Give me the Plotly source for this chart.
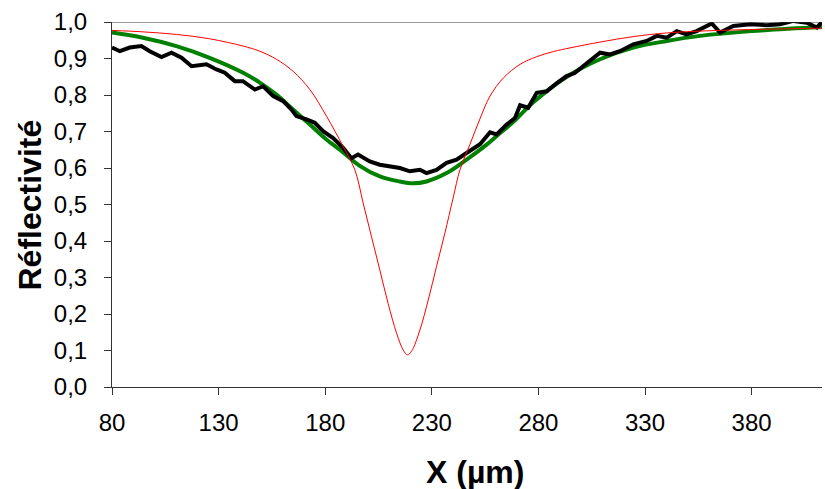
import plotly.graph_objects as go

# Measured reflectivity (black, noisy)
x_mes = [80, 83.7, 88.3, 93.8, 97.7, 103.2, 107.9, 112.6, 117.3, 124.3, 129, 132.9,
         137.6, 141.4, 147, 150.9, 155.6, 160.3, 164.2, 166.5, 171.2, 175.1, 179,
         183.7, 188.4, 192.3, 195.4, 200.9, 205.6, 210.3, 215, 219.7, 224.4, 227.5,
         232.2, 236.9, 241.6, 246.3, 252.6, 257.3, 260.4, 265.1, 269, 271.4, 275.2,
         279.2, 283.9, 288.5, 293.2, 297, 301, 305.7, 308.9, 313.6, 318.2, 324.5,
         330.8, 335.5, 340.2, 344.9, 349.5, 354.2, 361.3, 365.2, 371.4, 379.3, 387.1,
         393.3, 399.6, 405.9, 410.6, 413.5]
y_mes = [0.930, 0.920, 0.930, 0.934, 0.920, 0.904, 0.916, 0.902, 0.879, 0.884, 0.870, 0.861,
         0.838, 0.838, 0.815, 0.824, 0.797, 0.783, 0.760, 0.742, 0.733, 0.724, 0.701,
         0.682, 0.655, 0.627, 0.637, 0.618, 0.609, 0.604, 0.600, 0.591, 0.595, 0.586,
         0.595, 0.614, 0.623, 0.641, 0.665, 0.698, 0.692, 0.719, 0.737, 0.772, 0.765,
         0.806, 0.810, 0.832, 0.852, 0.860, 0.879, 0.898, 0.916, 0.911, 0.920, 0.939,
         0.948, 0.962, 0.957, 0.975, 0.966, 0.975, 0.996, 0.971, 0.989, 0.994, 0.991,
         0.994, 1.003, 0.998, 0.985, 1.003]

# Fitted curve (green)
x_fit = [80, 94.5, 110.2, 125.8, 141.5, 149.3, 157.1, 164.9, 172.8, 180.6, 188.4, 196.2,
         205.6, 215, 221.3, 227.5, 236.9, 246.3, 255.7, 260.3, 268, 277.6, 293.3, 308.9,
         324.5, 340.2, 355.8, 380, 413]
y_fit = [0.971, 0.957, 0.934, 0.902, 0.861, 0.834, 0.801, 0.760, 0.719, 0.678, 0.643, 0.606,
         0.577, 0.563, 0.558, 0.563, 0.586, 0.623, 0.664, 0.687, 0.725, 0.780, 0.850, 0.898,
         0.930, 0.948, 0.962, 0.975, 0.986]

# Theoretical curve (red)
x_th = [80, 94.5, 110.2, 125.8, 141.5, 149.3, 157.1, 164.9, 172.8, 180.6, 188.4, 193.9,
        197.8, 201.7, 205.6, 209.5, 213.5, 216.6, 218.6, 220.5, 224.4, 228.3, 232.2, 236.1,
        240, 243.2, 247.9, 252.6, 257.3, 263.6, 271.4, 279.2, 287, 294.8, 308.9, 324.5,
        340.2, 360, 385, 413]
y_th = [0.977, 0.973, 0.966, 0.954, 0.934, 0.920, 0.898, 0.865, 0.815, 0.742, 0.659, 0.595,
        0.504, 0.412, 0.321, 0.229, 0.147, 0.101, 0.088, 0.098, 0.156, 0.238, 0.330, 0.421,
        0.518, 0.595, 0.665, 0.735, 0.797, 0.847, 0.884, 0.905, 0.919, 0.929, 0.945, 0.960,
        0.970, 0.976, 0.980, 0.983]

x_ticks = [80, 130, 180, 230, 280, 330, 380]
y_ticks = [0.0, 0.1, 0.2, 0.3, 0.4, 0.5, 0.6, 0.7, 0.8, 0.9, 1.0]

fig = go.Figure()
fig.add_trace(go.Scatter(x=x_fit, y=y_fit, mode="lines",
                         line=dict(color="#008000", width=4, shape="spline"),
                         showlegend=False))
fig.add_trace(go.Scatter(x=x_mes, y=y_mes, mode="lines",
                         line=dict(color="black", width=4),
                         showlegend=False))
fig.add_trace(go.Scatter(x=x_th, y=y_th, mode="lines",
                         line=dict(color="#ff0000", width=1, shape="spline"),
                         showlegend=False))

fig.add_shape(type="line", xref="paper", yref="y", x0=0, x1=1, y0=1.0, y1=1.0,
              line=dict(color="#333333", width=1))

font_family = "Liberation Sans, Arial, sans-serif"

fig.add_annotation(text="<b>X (µm)</b>", xref="paper", yref="paper",
                   x=0.511, y=-0.232, xanchor="center", yanchor="middle",
                   showarrow=False, font=dict(size=32, family=font_family, color="black"))
fig.add_annotation(text="<b>Réflectivité</b>", xref="paper", yref="paper",
                   x=-0.1155, y=0.5, xanchor="center", yanchor="middle", textangle=-90,
                   showarrow=False, font=dict(size=32, family=font_family, color="black"))

fig.update_layout(
    width=825, height=489,
    margin=dict(l=112, r=3, t=22, b=102),
    paper_bgcolor="white", plot_bgcolor="white",
    separators=",.",
    font=dict(family=font_family, color="black"),
    xaxis=dict(
        range=[80, 413], tickmode="array", tickvals=x_ticks,
        ticks="outside", ticklen=7, tickcolor="#333333", tickwidth=1,
        showline=True, linecolor="#333333", linewidth=1,
        showgrid=False, zeroline=False, automargin=False,
        tickfont=dict(size=24, family=font_family),
        ticklabelstandoff=7,
    ),
    yaxis=dict(
        range=[0, 1.0], tickmode="array", tickvals=y_ticks, tickformat=".1f",
        ticks="outside", ticklen=7, tickcolor="#333333", tickwidth=1,
        showline=True, linecolor="#333333", linewidth=1,
        showgrid=False, zeroline=False, automargin=False,
        tickfont=dict(size=24, family=font_family),
        ticklabelstandoff=12,
    ),
)

fig.write_html(
    "out.html",
    config={"displayModeBar": False},
    post_script="document.body.style.margin='0px';document.body.style.overflow='hidden';",
)
